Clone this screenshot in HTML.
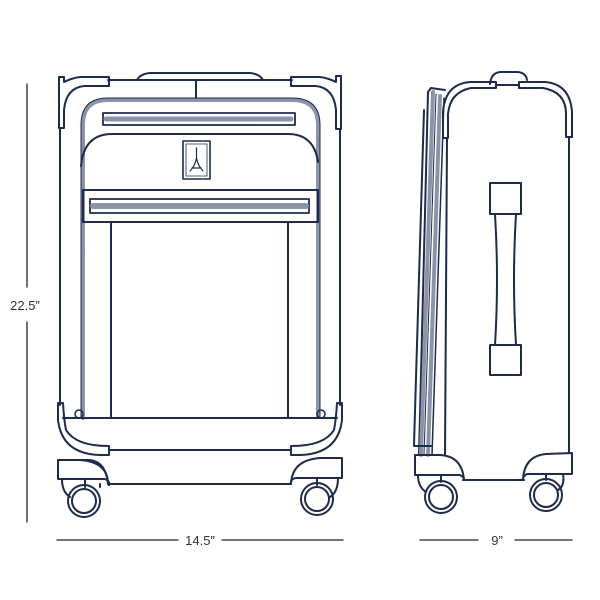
<!DOCTYPE html>
<html><head><meta charset="utf-8"><style>
html,body{margin:0;padding:0;background:#fff;width:600px;height:600px;overflow:hidden}
svg{display:block}
text{font-family:"Liberation Sans",sans-serif;fill:#333;font-size:13px}
</style></head><body>
<svg width="600" height="600" viewBox="0 0 600 600" xmlns="http://www.w3.org/2000/svg">
<g fill="none" stroke="#1d2b4c" stroke-width="2" stroke-linejoin="round" stroke-linecap="round">
<!-- dimension lines -->
<g stroke="#222" stroke-width="1.3">
<line x1="27" y1="84" x2="27" y2="287"/><line x1="27" y1="322" x2="27" y2="522"/>
<line x1="57" y1="540" x2="178" y2="540"/><line x1="222" y1="540" x2="343" y2="540"/>
<line x1="420" y1="540" x2="478" y2="540"/><line x1="515" y1="540" x2="572" y2="540"/>
</g>

<!-- FRONT VIEW -->
<path d="M137 80 Q140 74 150 73 L250 73 Q260 74 263 80"/>
<line x1="108" y1="80" x2="292" y2="80"/>
<line x1="196" y1="80" x2="196" y2="98"/>
<!-- top corners -->
<path d="M59 77 L64 77 L64 82 Q72 78 80 77 L109 77 L109 86 L84 86 Q66 88 64 110 L64 128 L59 128 Z"/>
<path d="M341 76 L336 76 L336 82 Q328 78 320 77 L291 77 L291 86 L316 86 Q334 88 336 110 L336 129 L341 129 Z"/>
<line x1="60" y1="128" x2="60" y2="405"/>
<line x1="340" y1="129" x2="340" y2="405"/>
<!-- zip outline -->
<path d="M83 418 L83 125 Q83 100 108 100 L292 100 Q318 100 318 125 L318 418" stroke="#8a93a8" stroke-width="4" stroke-dasharray="1 1"/>
<path d="M81 418 L81 125 Q81 98 108 98 L292 98 Q320 98 320 125 L320 418" stroke-width="1"/>
<!-- top pocket zip -->
<rect x="103" y="113" width="192" height="12" stroke-width="1.8"/>
<line x1="106" y1="119" x2="292" y2="119" stroke="#8a93a8" stroke-width="5" stroke-dasharray="1 1"/>
<!-- pocket curve -->
<path d="M81 166 Q84 134 112 134 L288 134 Q314 134 318 162"/>
<!-- logo -->
<rect x="183" y="141" width="27" height="38" stroke-width="1.6"/>
<rect x="186" y="144" width="21" height="32" stroke-width="0.8"/>
<path d="M196.5 148 L196.5 158 Q195 166 190 171 M196.5 158 Q198 166 203 171 M192 168 L201 168" stroke-width="1.2"/>
<!-- lower zip panel -->
<rect x="83" y="190" width="235" height="32"/>
<rect x="90" y="199" width="219" height="14" stroke-width="1.8"/>
<line x1="93" y1="206" x2="306" y2="206" stroke="#8a93a8" stroke-width="6" stroke-dasharray="1 1"/>
<line x1="111" y1="222" x2="111" y2="418"/>
<line x1="288" y1="222" x2="288" y2="418"/>
<line x1="63" y1="418" x2="337" y2="418"/>
<circle cx="79" cy="414" r="4" stroke-width="1.5"/><circle cx="321" cy="414" r="4" stroke-width="1.5"/>
<!-- bottom corners -->
<path d="M58 403 L63 403 Q64 420 66 430 Q76 446 108 446 L109 446 L109 455 L100 455 Q62 454 58 420 Z"/>
<path d="M342 403 L337 403 Q336 420 334 430 Q324 446 292 446 L291 446 L291 455 L300 455 Q338 454 342 420 Z"/>
<line x1="109" y1="450" x2="291" y2="450"/>
<!-- wheel housings -->
<path d="M58 460 L58 479 L104 479 Q110 480 109 485 L108 484 Q108 462 80 460 Z"/>
<path d="M58 460 L90 460 Q106 462 108 484 L109 485"/>
<path d="M342 458 L342 478 L296 478 Q290 479 291 484 Q292 460 320 458 Z"/>
<line x1="109" y1="484" x2="291" y2="484"/>
<path d="M62 479 Q62 492 70 497 M85 479 L85 487 M100 484 L100 487"/>
<path d="M338 478 Q338 492 330 497 M317 478 L317 485"/>
<circle cx="84" cy="501" r="16"/><circle cx="84" cy="501" r="12"/>
<circle cx="317" cy="499" r="16"/><circle cx="317" cy="499" r="12"/>

<!-- SIDE VIEW -->
<path d="M490 84 Q491 73 500 72 L518 72 Q526 73 527 80"/>
<path d="M443 138 L443 112 Q445 84 470 82 L496 82 L496 88 L471 88 Q450 92 448 114 L448 138 Z"/>
<path d="M572 137 L572 112 Q570 84 545 82 L519 82 L519 88 L543 88 Q566 92 566 114 L566 137 Z"/>
<line x1="496" y1="85" x2="519" y2="85"/>
<line x1="569" y1="137" x2="569" y2="453"/>
<!-- front panel slanted -->
<path d="M419 455 L428 92 L431 88 L445 90"/>
<path d="M424 110 L414 445"/>
<line x1="433" y1="92" x2="421" y2="455" stroke="#8a93a8" stroke-width="4" stroke-dasharray="1 1"/>
<line x1="440" y1="96" x2="428" y2="455" stroke="#8a93a8" stroke-width="4" stroke-dasharray="1 1"/>
<line x1="436" y1="94" x2="424" y2="455" stroke-width="1"/>
<line x1="444" y1="98" x2="432" y2="455" stroke-width="1.5"/>
<line x1="447" y1="138" x2="445" y2="455"/>
<path d="M414 445 L414 446 L432 446"/>
<!-- side handle -->
<rect x="490" y="183" width="31" height="31"/>
<rect x="490" y="345" width="31" height="30"/>
<path d="M495 214 Q499 280 495 345 M516 214 Q512 280 516 345"/>
<!-- side bottom -->
<path d="M415 455 L415 475 L460 475 Q465 478 464 480 Q462 456 440 455 Z"/>
<path d="M572 453 L572 474 L527 474 Q522 477 523 480 Q524 456 546 454 Z"/>
<line x1="463" y1="480" x2="524" y2="480"/>
<path d="M418 475 Q418 487 426 492 M441 475 L441 482 M563 474 Q565 486 558 490 M546 474 L546 480"/>
<circle cx="441" cy="497" r="16"/><circle cx="441" cy="497" r="12"/>
<circle cx="546" cy="495" r="16"/><circle cx="546" cy="495" r="12"/>
</g>
<text x="25" y="310" text-anchor="middle">22.5”</text>
<text x="200" y="545" text-anchor="middle">14.5”</text>
<text x="497" y="545" text-anchor="middle">9”</text>
</svg>
</body></html>
